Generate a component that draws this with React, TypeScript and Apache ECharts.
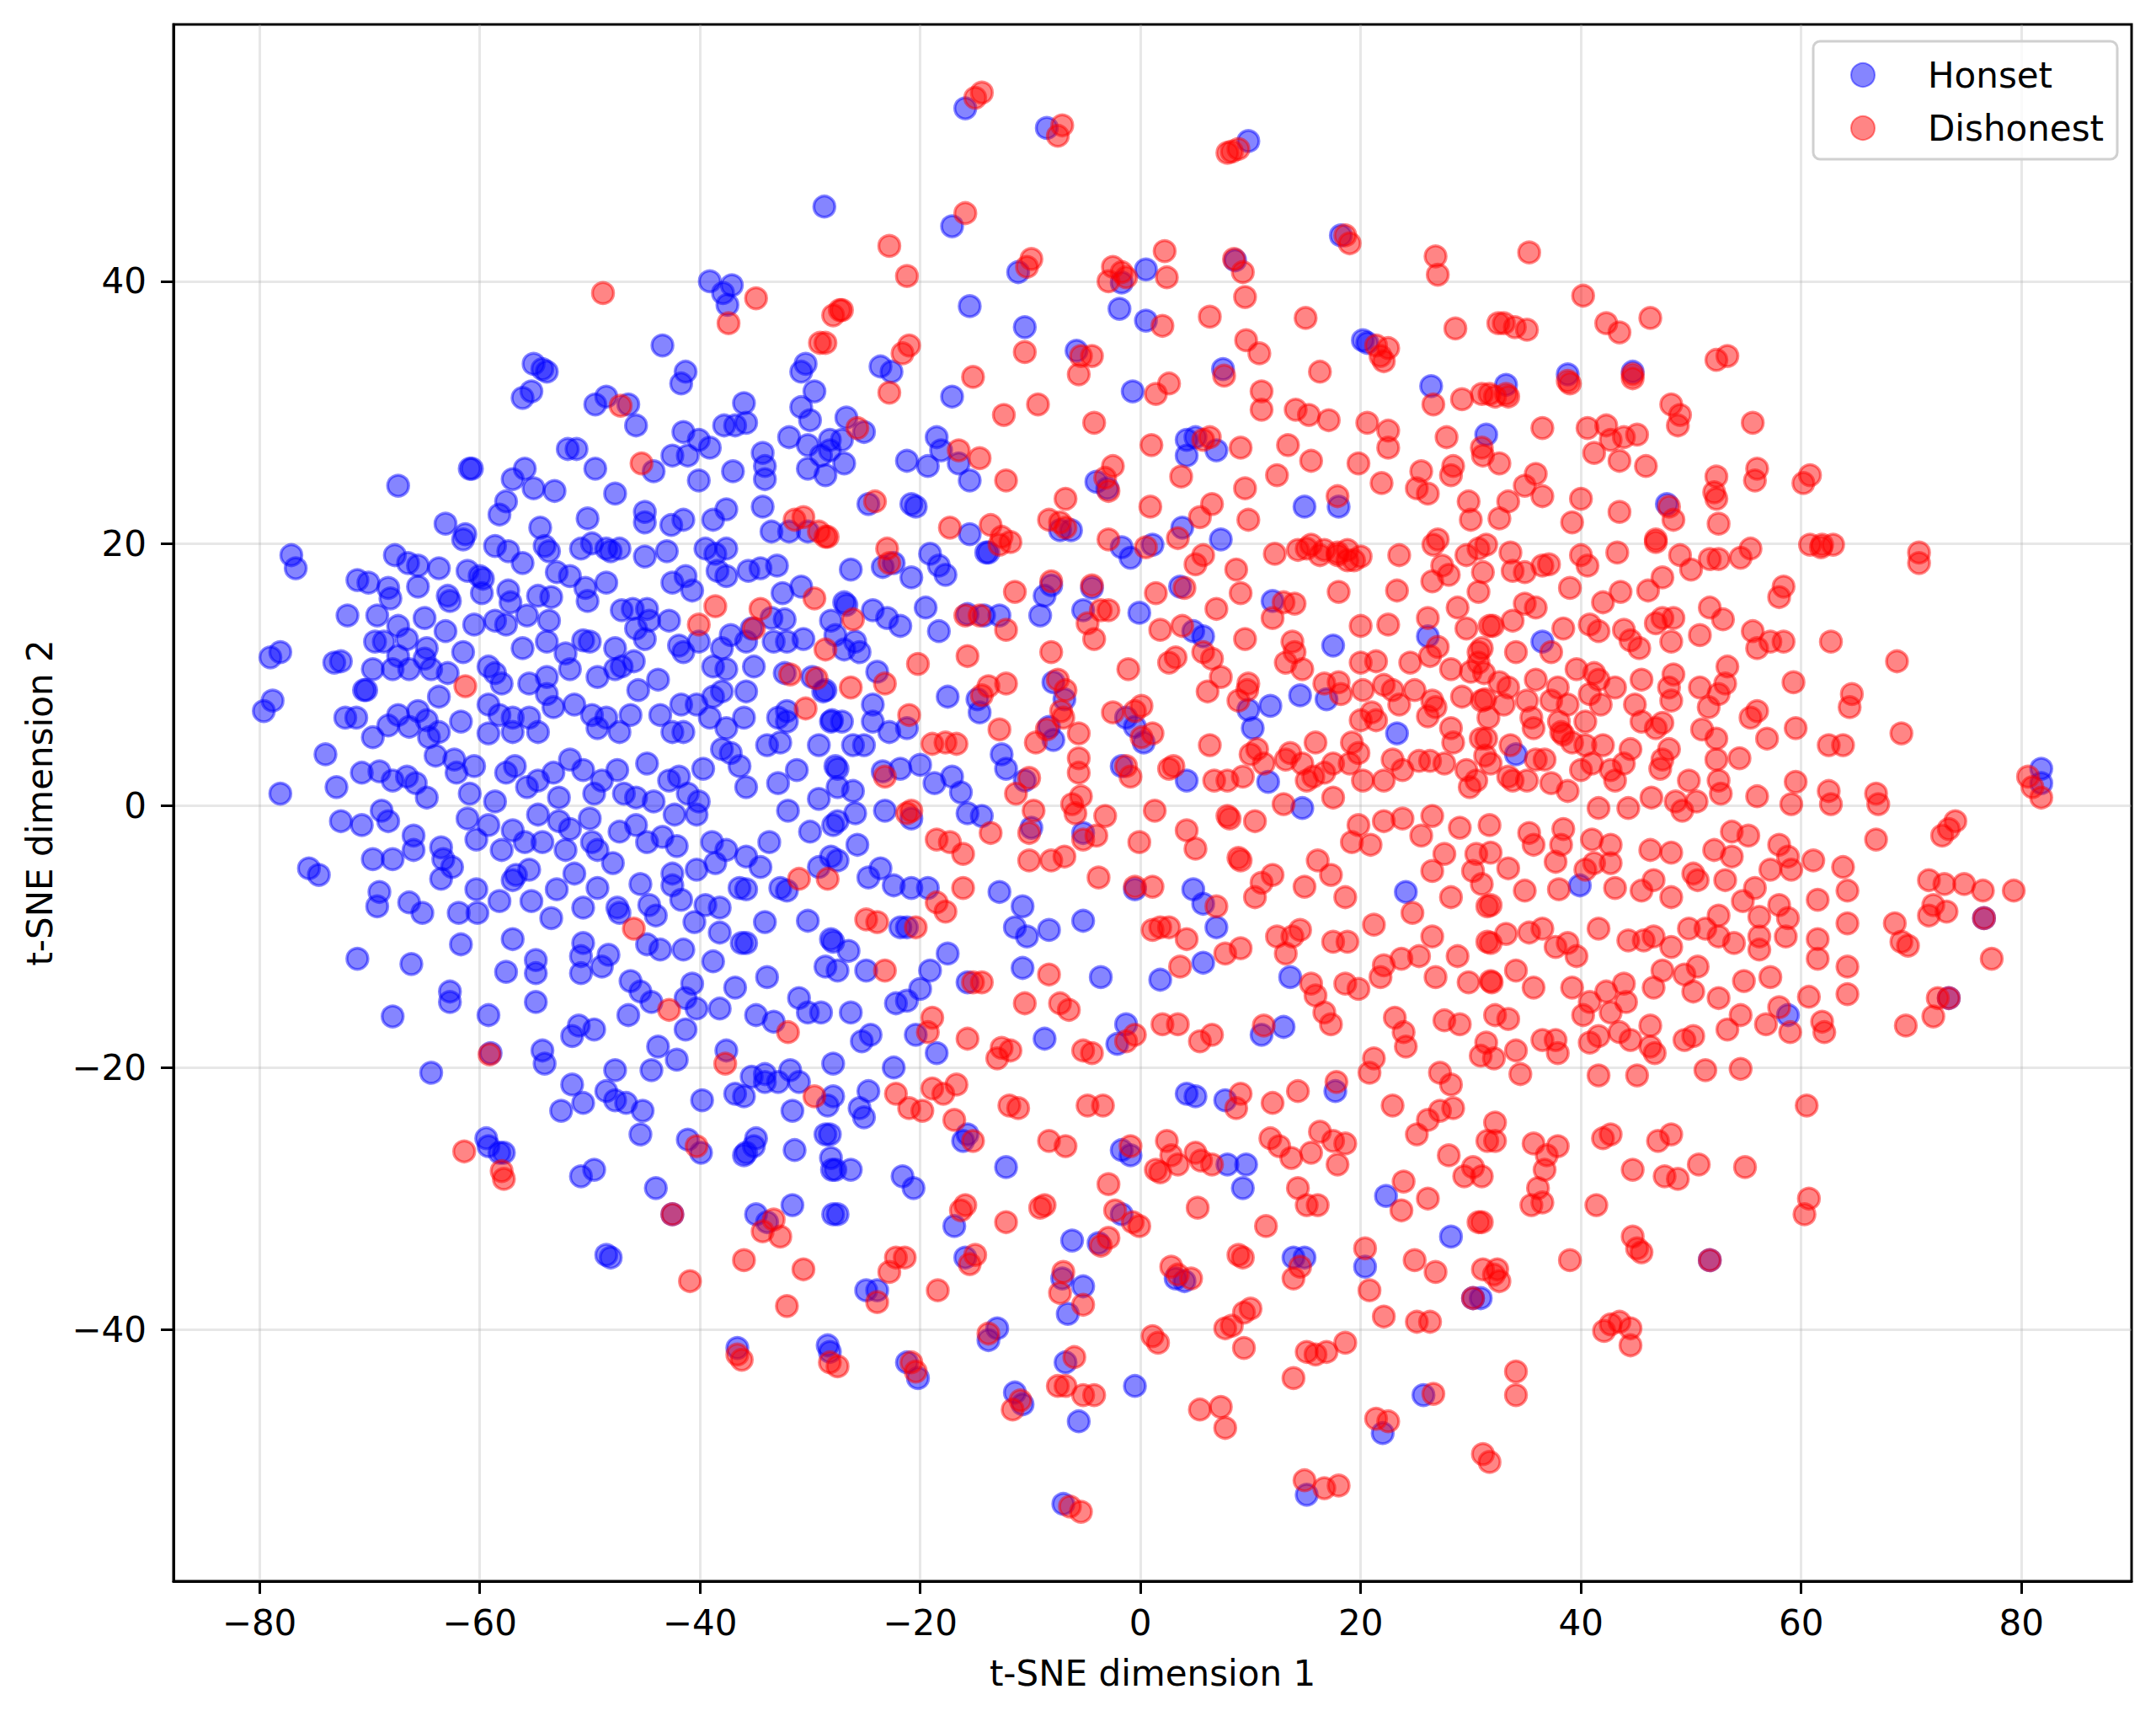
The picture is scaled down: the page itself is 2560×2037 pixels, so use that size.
import React, { useEffect, useRef } from "react";
import * as echarts from "echarts";

// ---------- DATA ----------
const xTicks = [-80, -60, -40, -20, 0, 20, 40, 60, 80];
const yTicks = [-40, -20, 0, 20, 40];
const seriesNames = ["Honset", "Dishonest"];

const honsetUpper: number[][] = [
  [-28.7,45.7],[-39.1,40],[-37.9,39.1],[-37.1,39.7],[-37.5,38.2],[-43.4,35.1],[-41.3,33.1],[-41.7,32.2],[-30.4,33.7],[-30.8,33.1],[-29.6,31.6],[-55.1,33.7],[-54.3,33.3],[-53.9,33.1],[-56.1,31.1],[-55.3,31.6],[-49.5,30.6],[-48.5,31.2],[-46.5,30.6],[-45.8,29.0],[-36.0,30.7],[-35.8,29.2],[-36.8,29.0],[-37.8,29.0],[-41.5,28.5],[-40.1,27.9],[-39.1,27.3],[-42.5,26.7],[-41.1,26.7],[-40.1,24.8],[-37.0,25.5],[-34.3,26.9],[-34.1,25.9],[-34.1,24.9],[-31.9,28.1],[-30.2,27.5],[-29.0,26.7],[-28.6,25.2],[-30.2,25.7],[-28.2,27.9],[-30.8,30.4],[-30.0,29.4],[-44.2,25.5],[-52.0,27.2],[-51.2,27.2],[-49.5,25.7],[-60.9,25.7],[-60.7,25.7],[-67.4,24.4],[-57.0,24.9],[-55.9,25.7],[-55.1,24.2],[-53.2,24.0],[-47.7,23.8],[-57.6,23.2],[-58.2,22.2],[-63.1,21.5],[-61.3,20.7],[-61.5,20.3],[-54.5,21.2],[-50.2,21.9],[-45.0,22.4],[-42.6,21.4],[-41.5,21.8],[-45.0,21.6],[-38.8,21.8],[-37.6,22.6],[-34.3,22.8],[-33.5,20.9],[-31.9,20.9],[-30.2,20.9],[-77.1,19.1],[-76.7,18.1],[-67.7,19.1],[-66.5,18.5],[-65.6,18.3],[-63.7,18.1],[-61.1,17.9],[-59.7,17.3],[-58.6,19.8],[-57.4,19.4],[-56.1,18.5],[-54.1,19.8],[-53.7,19.4],[-50.8,19.6],[-49.8,20.0],[-48.5,19.6],[-48.1,19.4],[-47.3,19.6],[-45.0,19.0],[-43.0,19.4],[-39.5,19.6],[-38.6,19.2],[-37.6,19.6],[-35.6,17.9],[-34.5,18.1],[-33.0,18.3],
  [-15.9,53.2],[-8.5,51.7],[9.8,50.7],[-17.1,44.2],[-11.1,40.7],[-1.7,39.9],[0.5,40.9],[18.2,43.5],[8.6,41.6],[-15.5,38.1],[-10.5,36.5],[-23.6,33.5],[-22.6,33.1],[-17.1,31.2],[-5.8,34.7],[-1.9,37.9],[0.5,37.0],[20.6,35.3],[20.2,35.5],[26.4,32.0],[-0.7,31.6],[7.5,33.3],[4.2,27.9],[5.0,28.1],[6.9,27.1],[4.2,26.7],[-7.3,21.0],[-6.3,21.0],[-4.0,24.7],[-3.0,24.2],[1.1,19.9],[3.8,21.2],[7.3,20.3],[-16.5,26.1],[-15.5,24.8],[-20.8,23.0],[-20.4,22.8],[-24.7,23.0],[-18.5,28.1],[-18.1,27.1],[-19.3,25.9],[-21.2,26.3],[-26.7,29.6],[-25.1,28.5],[-27.1,27.9],[-28.2,27.1],[-26.9,26.1],[-15.5,20.7],[-13.8,19.3],[-1.7,19.7],[-0.9,18.9],[14.9,22.8],[18.0,22.8],
  [33.2,32.1],[38.8,32.9],[44.7,33.1],[31.4,28.3],[47.8,23.0]
];

const honsetCore: number[][] = [
  [-71.1,17.2],[-70.1,17.0],[-68.3,16.6],[-68.1,15.8],[-65.6,16.7],[-62.9,16.0],[-62.7,15.6],[-60.0,17.5],[-59.8,16.2],[-57.4,16.4],[-57.2,15.5],[-54.7,16.0],[-53.5,15.9],[-53.0,17.8],[-51.8,17.5],[-50.4,16.6],[-50.2,15.6],[-48.5,17.0],[-47.1,14.9],[-46.1,15.0],[-44.8,15.0],[-42.5,17.0],[-41.3,17.5],[-40.7,16.4],[-38.4,17.9],[-37.6,17.5],[-32.5,16.2],[-30.8,16.7],[-26.7,15.3],
  [-72.0,14.5],[-69.3,14.5],[-67.4,13.7],[-66.6,12.7],[-65.0,14.3],[-63.1,13.3],[-60.5,13.8],[-64.8,12.0],[-65.0,11.2],[-69.5,12.5],[-68.7,12.5],[-67.4,11.4],[-61.5,11.7],[-58.6,14.1],[-57.6,13.8],[-55.7,14.5],[-53.7,14.1],[-56.1,12.0],[-53.9,12.5],[-52.2,11.6],[-50.6,12.6],[-50.0,12.5],[-47.7,12.0],[-45.8,13.5],[-45.0,12.7],[-44.6,14.1],[-42.8,14.1],[-41.9,12.2],[-41.5,11.7],[-40.1,12.5],[-38.0,12.0],[-37.2,13.0],[-35.8,12.5],[-35.3,13.5],[-33.5,14.3],[-32.3,14.2],[-33.3,12.5],[-32.1,12.5],[-30.6,12.7],[-28.1,14.1],[-27.7,13.0],[-35.1,10.6],[-32.3,10.1],[-37.6,10.4],[-38.8,10.6],[-46.0,11.0],[-47.1,10.6],[-43.8,9.6],[-47.7,10.4],[-49.3,9.8],[-51.8,10.4],[-53.9,9.8],[-55.5,9.3],[-58.6,10.1],[-59.2,10.6],[-58.0,9.3],[-62.9,10.1],[-64.4,10.4],[-66.4,10.4],[-67.9,10.4],[-69.7,10.4],[-70.3,8.8],[-72.6,11.0],[-73.2,10.9],[-79.0,11.3],[-78.1,11.7],[-78.8,8.0],[-79.6,7.2],
  [-72.2,6.7],[-71.2,6.7],[-70.5,8.8],[-69.7,5.2],[-68.3,6.1],[-67.4,6.9],[-66.4,6.0],[-65.6,7.2],[-64.8,6.5],[-64.6,5.2],[-63.7,5.6],[-63.7,8.3],[-61.7,6.4],[-59.2,7.7],[-59.2,5.5],[-58.2,6.9],[-57.0,5.6],[-57.0,6.7],[-55.5,6.7],[-54.7,5.6],[-53.9,8.5],[-53.3,7.5],[-51.4,7.7],[-49.8,6.9],[-49.3,5.9],[-48.5,6.7],[-47.3,5.6],[-46.3,6.9],[-45.6,8.8],[-43.6,6.9],[-42.5,5.6],[-41.7,7.7],[-41.5,5.6],[-40.3,7.7],[-39.1,6.7],[-38.8,8.3],[-37.6,5.9],[-36.0,6.7],[-35.8,8.7],[-38.0,8.7],[-32.9,6.7],[-32.1,7.2],[-32.1,6.4],[-32.7,4.8],[-29.2,4.6],[-28.1,6.4],[-28.8,8.7],[-29.8,9.8],
  [-74.0,3.9],[-78.1,0.9],[-73.0,1.4],[-70.7,2.5],[-69.1,2.6],[-67.9,1.9],[-66.6,2.2],[-65.8,1.7],[-64.8,0.6],[-64.0,3.8],[-62.3,3.5],[-62.1,2.5],[-60.9,0.9],[-60.5,3.0],[-58.6,0.3],[-57.6,2.5],[-56.8,3.0],[-55.7,1.4],[-54.7,1.9],[-53.3,2.5],[-52.8,0.6],[-51.8,3.5],[-50.6,2.7],[-49.6,0.9],[-48.9,1.9],[-47.5,2.7],[-46.9,0.9],[-45.8,0.6],[-44.8,3.2],[-44.2,0.3],[-42.8,1.9],[-41.9,2.2],[-41.1,0.9],[-40.1,0.3],[-39.7,2.8],[-38.0,4.3],[-37.2,4.0],[-36.4,3.0],[-35.8,1.4],[-33.9,4.6],[-32.9,1.7],[-31.2,2.7],[-29.2,0.5],[-27.5,1.4],[-27.7,3.0],
  [-72.6,-1.2],[-70.7,-1.5],[-68.9,-0.4],[-68.3,-1.2],[-66.0,-2.3],[-66.0,-3.4],[-63.5,-3.2],[-63.3,-4.1],[-62.5,-4.7],[-63.5,-5.6],[-61.1,-1.0],[-60.3,-2.6],[-59.2,-1.5],[-58.0,-3.4],[-57.0,-1.9],[-55.9,-2.8],[-54.7,-0.7],[-54.3,-2.8],[-52.8,-1.2],[-52.2,-3.4],[-51.8,-1.8],[-50.0,-1.0],[-49.8,-2.8],[-49.3,-3.4],[-47.3,-2.0],[-45.8,-1.5],[-44.8,-2.8],[-43.4,-2.4],[-42.3,-0.7],[-42.1,-3.1],[-40.3,-0.7],[-38.9,-2.8],[-37.6,-3.4],[-35.8,-3.9],[-34.5,-4.7],[-33.7,-2.8],[-32.0,-0.4],[-30.0,-2.0],[-29.2,-4.7],[-28.1,-3.9],[-27.5,-1.2],[-69.7,-4.1],[-67.9,-4.1],[-75.5,-4.8],[-74.6,-5.3],[-56.7,-5.3],[-55.5,-4.9],[-51.4,-5.2],[-47.9,-4.4],[-45.4,-6.0],[-42.5,-5.2],[-40.3,-4.9],[-38.6,-4.4],[-36.4,-6.3],
  [-69.1,-6.6],[-69.3,-7.7],[-66.4,-7.4],[-65.2,-8.2],[-61.9,-8.2],[-60.3,-6.4],[-60.2,-8.2],[-58.2,-7.3],[-57.0,-5.7],[-55.3,-7.3],[-53.0,-6.4],[-50.6,-7.8],[-49.3,-6.3],[-47.3,-8.2],[-44.6,-7.6],[-44.0,-8.4],[-42.5,-6.1],[-41.7,-7.2],[-40.5,-8.9],[-38.2,-7.8],[-38.2,-9.7],[-35.8,-6.4],[-34.1,-8.9],[-35.8,-10.5],[-32.7,-6.3],[-32.1,-6.5],[-30.2,-8.8],[-28.1,-10.2],[-39.5,-7.6],[-61.7,-10.6],[-57.0,-10.2],[-53.5,-8.6],[-50.6,-10.5],[-47.5,-7.8],[-44.8,-10.6],[-43.6,-11.0],[-41.5,-11.0],
  [-71.1,-11.7],[-66.2,-12.1],[-62.7,-14.2],[-62.7,-15.0],[-57.6,-12.7],[-54.9,-11.8],[-54.9,-12.8],[-54.9,-15.0],[-50.8,-11.5],[-50.8,-12.8],[-48.9,-12.3],[-48.3,-11.4],[-51.0,-16.8],[-49.6,-17.1],[-46.3,-13.4],[-45.4,-14.2],[-40.7,-13.6],[-38.8,-11.9],[-41.3,-14.7],[-40.3,-15.5],[-38.2,-15.5],[-36.8,-13.9],[-33.9,-13.1],[-34.9,-16.0],[-33.3,-16.5],[-31.0,-14.7],[-30.2,-15.8],[-28.6,-12.3],[-29.0,-15.8],[-59.2,-16.0],[-67.9,-16.1],[-41.3,-17.1],[-46.5,-16.0],[-44.4,-15.0],[-36.2,-10.5],
  [-59.0,-18.9],[-54.3,-18.7],[-54.1,-19.7],[-51.6,-17.6],[-47.7,-20.2],[-43.8,-18.4],[-42.1,-19.4],[-37.6,-18.7],[-34.1,-20.5],[-31.8,-20.2],[-27.9,-19.7],[-64.4,-20.4]
];

const honsetLower: number[][] = [
  [-51.6,-21.3],[-50.6,-22.7],[-48.5,-21.8],[-47.7,-22.5],[-52.6,-23.3],[-46.7,-22.7],[-45.2,-23.3],[-45.4,-25.1],[-44.4,-20.2],[-39.8,-22.5],[-36.0,-22.2],[-35.3,-20.7],[-36.8,-22.0],[-34.1,-21.1],[-32.9,-21.1],[-31.0,-21.1],[-31.6,-23.3],[-28.2,-25.1],[-28.1,-26.9],[-27.7,-27.8],[-35.1,-26.0],[-35.8,-26.5],[-36.0,-26.7],[-34.9,-25.4],[-31.4,-26.3],[-41.1,-25.5],[-39.9,-26.5],[-44.0,-29.2],[-42.5,-31.2],[-50.8,-28.3],[-49.6,-27.8],[-59.4,-25.4],[-59.2,-26.0],[-58.2,-26.5],[-57.8,-26.5],[-48.5,-34.3],[-48.1,-34.5],[-34.9,-31.2],[-33.9,-31.8],[-31.6,-30.5],[-27.9,-31.2],[-36.6,-41.4],[-28.2,-41.7],[-28.4,-41.2]
];

const honsetMiddle: number[][] = [
  [-26.3,18.0],[-23.4,18.2],[-22.4,18.5],[-20.8,17.4],[-19.1,19.2],[-18.3,18.3],[-17.7,17.6],[-14.0,19.3],[-19.5,15.1],[-26.9,15.5],[-24.3,14.9],[-23.0,14.3],[-21.8,13.7],[-18.3,13.3],[-15.7,14.6],[-14.2,14.5],[-12.8,14.5],[-9.1,14.5],[-8.7,16.0],[-8.1,16.8],[-5.2,14.9],[-4.4,16.6],[-0.1,14.7],[4.8,13.3],[5.7,12.9],[12.0,15.6],[17.5,12.2],[26.1,12.9],[-25.9,12.5],[-25.5,11.7],[-26.9,11.9],[-23.9,10.2],[-28.6,8.8],[-28.0,6.5],[-27.1,6.4],[-24.3,7.7],[-24.3,6.4],[-22.8,5.6],[-21.2,5.9],[-26.1,4.6],[-25.1,4.6],[-27.5,2.8],[-26.1,1.1],[-23.4,2.6],[-21.8,2.8],[-20.0,3.1],[-18.7,1.7],[-17.1,2.2],[-16.3,1.0],[-17.5,8.3],[-14.8,8.1],[-14.6,7.1],[-12.6,3.9],[-12.2,2.8],[-10.5,1.9],[-7.9,5.0],[-8.3,6.0],[-7.9,9.4],[-6.9,8.1],[-1.3,6.7],[-0.5,6.0],[0.3,4.8],[-1.7,3.0],[4.2,1.9],[9.8,7.3],[10.2,5.9],[11.8,7.6],[14.5,8.4],[16.9,8.1],[11.6,1.8],[23.3,5.5],[3.6,16.7],[14.7,-0.2],
  [-27.9,-1.5],[-25.9,-0.6],[-23.2,-0.4],[-20.8,-1.0],[-15.7,-0.6],[-14.4,-0.8],[-9.9,-1.7],[-5.2,-2.1],[-27.5,-4.2],[-25.7,-3.0],[-23.6,-4.8],[-21.8,-9.3],[-21.2,-9.3],[-19.3,-6.3],[-20.8,-6.3],[-22.4,-6.1],[-24.7,-5.5],[-27.9,-10.4],[-26.5,-11.1],[-24.9,-12.6],[-22.2,-15.1],[-21.2,-14.9],[-20.0,-14.0],[-19.1,-12.6],[-17.5,-11.3],[-27.5,-12.6],[-26.3,-15.8],[-25.3,-18.0],[-24.5,-17.5],[-22.4,-20.0],[-20.4,-17.5],[-18.5,-18.9],[-15.7,-13.5],[-12.8,-6.6],[-10.7,-7.7],[-11.4,-9.3],[-10.3,-10.0],[-10.7,-12.4],[-8.3,-9.5],[-8.7,-17.8],[-5.2,-8.8],[-3.6,-13.1],[-2.1,-18.2],[-1.3,-16.7],[-0.5,-6.4],[1.8,-13.3],[4.8,-6.4],[5.7,-7.5],[6.9,-9.3],[5.7,-12.0],[11.0,-17.5],[13.6,-13.1],[24.1,-6.6],
  [-28.4,-22.9],[-27.9,-22.2],[-28.6,-25.1],[-28.0,-27.8],[-26.3,-27.8],[-24.7,-21.8],[-25.5,-23.1],[-25.1,-23.8],[-21.6,-28.3],[-20.6,-29.2],[-27.5,-31.2],[-16.1,-25.6],[-15.7,-25.1],[-16.9,-32.1],[-15.9,-34.5],[-24.9,-37.0],[-23.9,-37.0],[-12.2,-27.6],[-6.2,-33.2],[-3.8,-33.4],[-7.1,-36.1],[-5.2,-36.7],[-6.6,-38.8],[-1.7,-26.3],[-0.9,-26.7],[-1.7,-31.2],[4.2,-22.0],[5.0,-22.2],[7.7,-22.5],[7.9,-27.4],[9.6,-27.4],[9.3,-29.2],[13.0,-16.9],[13.9,-34.5],[14.9,-34.5],[3.2,-36.1],[4.0,-36.3],[20.4,-35.2],[17.7,-21.8],[22.3,-29.8],[28.2,-32.9],[30.9,-37.6],[-13.8,-40.8],[-13.0,-39.9],[-21.2,-42.5],[-20.2,-43.7],[-11.4,-44.8],[-10.7,-45.7],[-5.6,-47.0],[-6.8,-42.5],[-0.5,-44.3],[-7.0,-53.3],[15.1,-52.6],[22.0,-47.9],[25.7,-45.0]
];

const honsetRight: number[][] = [
  [36.5,12.5],[34.1,3.9],[81.8,2.8],[81.8,1.7],[58.8,-16.0],[73.4,-14.7],[76.6,-8.6],[39.9,-6.1],[51.7,-34.7],[30.2,-37.6]
];

const dishonestLeft: number[][] = [
  [-48.8,39.1],[-34.9,38.7],[-37.4,36.8],[-29.1,35.3],[-27.3,37.8],[-47.2,30.5],[-45.3,26.1],[-38.6,15.2],[-40.1,13.8],[-34.5,15.0],[-35.1,13.5],[-29.6,15.8],[-28.6,11.9],[-31.8,10.0],[-29.4,9.7],[-30.4,7.4],[-61.3,9.1],[-31.4,21.8],[-30.6,22.0],[-29.2,20.9],[-28.6,20.5],
  [-31.0,-5.6],[-28.4,-5.6],[-46.0,-9.4],[-42.8,-15.6],[-32.0,-17.3],[-59.1,-19.0],[-37.7,-19.7],
  [-29.6,-22.2],[-40.3,-26.0],[-42.5,-31.2],[-61.4,-26.4],[-58.0,-27.9],[-57.8,-28.5],[-33.3,-31.6],[-34.3,-32.5],[-32.7,-32.9],[-36.0,-34.7],[-40.9,-36.3],[-30.6,-35.4],[-32.1,-38.2],[-36.6,-41.9],[-36.2,-42.3],[-28.2,-42.5],[-27.5,-42.8]
];

const dishonestUpper: number[][] = [
  [-15.0,54.0],[-14.4,54.4],[-7.1,51.9],[-7.5,51.1],[8.9,50.1],[7.9,49.8],[8.3,49.9],[-15.9,45.2],[-22.8,42.7],[-21.2,40.4],[-9.9,41.7],[-10.3,41.1],[-2.5,41.1],[-1.7,40.7],[-2.9,40.0],[-1.3,40.3],[2.4,40.3],[2.2,42.3],[8.5,41.7],[9.3,40.7],[9.5,38.8],[18.6,43.5],[19.0,42.9],[26.8,41.9],[27.0,40.5],[-10.5,34.6],[-27.1,37.8],[-27.9,37.4],[-28.6,35.3],[-21.0,35.1],[-21.6,34.5],[-22.8,31.5],[-15.2,32.7],[-5.4,34.3],[-4.4,34.3],[-5.6,32.9],[2.0,36.6],[6.3,37.3],[9.6,35.5],[10.8,34.5],[15.0,37.2],[16.3,33.1],[21.4,35.1],[22.1,33.9],[22.5,34.9],[21.8,34.3],[28.6,36.4],[1.4,31.4],[2.6,32.2],[7.6,32.8],[-12.4,29.8],[-9.3,30.6],[-4.2,29.2],[1.0,27.5],[3.7,25.1],[6.5,23.0],[5.4,22.0],[9.5,24.2],[9.8,21.8],[11.0,31.6],[11.0,30.2],[14.1,30.2],[15.3,29.8],[17.1,29.4],[13.4,27.5],[15.5,26.3],[12.4,25.2],[17.9,23.6],[20.6,29.2],[22.5,28.6],[22.5,27.3],[21.9,24.6],[19.8,26.1],[25.5,25.5],[25.1,24.2],[26.1,23.8],[27.8,28.1],[28.4,25.9],[28.2,25.2],[29.8,23.2],[30.0,21.8],[31.7,31.4],[32.5,36.8],[29.2,31.0],[26.6,30.6],[31.1,26.7],[6.3,28.1],[5.7,27.9],[9.1,27.3],[0.9,22.8],[3.4,20.4],[-6.8,21.2],[-7.3,21.6],[-8.3,21.8],[-6.8,23.4],[-3.2,25.0],[-2.5,25.9],[-2.9,24.0],[-14.6,26.5],[-16.5,27.1],[-12.2,24.8],[-24.1,23.2],[-25.7,28.8],[-28.4,20.5],[-17.3,21.2],[-13.6,21.4],[-12.6,20.5],[-11.8,20.1],[-2.9,20.3],[14.3,19.5],[15.5,19.9],[16.7,19.5],[17.9,19.1],[18.8,19.5],[19.4,18.7],[20.0,19.0],[23.5,19.1],[27.0,20.3],
  [35.3,42.2],[40.2,38.9],[33.0,36.8],[34.0,36.5],[35.1,36.3],[42.3,36.8],[43.5,36.1],[46.3,37.2],[52.3,34.0],[53.3,34.3],[39.0,32.2],[44.7,32.9],[31.0,31.4],[32.2,31.2],[33.4,31.2],[36.5,28.8],[40.6,28.8],[42.3,29.0],[42.7,27.9],[43.9,28.1],[45.1,28.3],[48.2,30.6],[49.0,29.8],[48.8,29.0],[55.6,29.2],[56.0,25.7],[55.8,24.8],[60.2,24.6],[60.8,25.2],[61.8,19.7],[60.8,19.9],[70.7,19.3],[70.7,18.5],[52.3,25.1],[52.1,23.9],[52.3,23.4],[52.5,21.5],[46.8,20.3],[48.4,21.8],[48.0,22.8],[40.0,23.4],[43.5,22.4],[39.2,21.6],[35.9,25.3],[34.9,24.4],[36.5,23.6],[33.4,23.2],[32.6,21.9],[43.5,26.3],[45.9,25.9],[41.2,26.9],[31.0,27.3],[32.6,26.1],[33.2,31.4],[38.8,32.4],[44.7,32.6]
];

const dishonestCentre: number[][] = [
  [-23.0,19.6],[-22.8,18.5],[-12.8,19.9],[-11.4,16.3],[-8.1,17.1],[-4.4,16.8],[-3.6,14.9],[-2.9,14.9],[-4.8,13.9],[-4.2,12.7],[0.5,19.7],[1.4,16.2],[4.0,16.6],[5.0,18.4],[5.7,19.1],[8.7,18.0],[9.1,16.2],[12.2,19.2],[15.1,19.6],[16.3,19.1],[17.9,19.3],[18.8,18.7],[26.6,19.9],[27.4,18.3],[29.6,19.1],[30.7,19.6],[31.1,17.8],[26.5,17.1],[28.0,17.6],[30.7,16.3],[28.8,15.1],[26.1,14.3],[23.3,16.4],[18.0,16.3],[20.0,13.7],[22.5,13.8],[13.0,15.5],[14.0,15.4],[6.9,15.0],[1.8,13.4],[3.8,13.7],[5.7,11.7],[6.5,11.2],[7.3,9.8],[3.2,11.3],[2.6,10.9],[9.5,12.7],[9.7,8.8],[8.9,8.0],[9.8,9.3],[6.1,8.7],[13.8,12.5],[14.0,11.7],[13.2,10.9],[14.7,10.4],[16.7,9.3],[18.0,9.4],[18.2,8.5],[20.0,10.9],[21.4,11.0],[20.2,8.8],[21.0,7.1],[22.1,9.2],[23.5,7.7],[24.5,10.9],[26.3,11.4],[27.0,12.1],[29.6,13.5],[30.7,11.7],[30.7,10.9],[31.7,13.7],[30.0,10.2],[26.5,8.0],[26.8,7.5],[28.2,5.9],[28.4,4.8],[30.9,5.1],[31.3,8.1],[29.2,8.3],[26.1,6.8],[25.3,3.4],[26.3,3.4],[27.6,3.2],[29.6,2.7],[31.3,3.8],[30.5,1.9],[29.9,1.4],[22.9,3.5],[23.8,2.7],[22.1,1.9],[20.2,1.9],[19.8,4.0],[19.2,4.8],[20.0,6.5],[21.4,6.5],[19.0,3.2],[16.7,2.5],[17.5,3.2],[15.7,2.2],[14.7,3.2],[13.6,4.0],[13.2,3.5],[15.9,4.8],[15.1,1.9],[17.5,0.6],[13.0,0.1],[10.6,4.3],[10.0,3.9],[11.2,3.2],[9.3,2.2],[7.9,1.9],[6.7,1.9],[6.3,4.6],[3.0,3.0],[2.6,2.8],[1.3,-0.4],[8.1,-1.0],[12.0,14.3],[28.2,10.4],[24.9,8.8],[22.9,8.8],[-1.1,10.4],[0.1,7.6],[-0.5,7.2],[-2.5,7.1],[0.1,5.2],[1.1,5.5],[-1.3,3.0],[-0.9,2.2],[-5.6,5.5],[-5.6,3.6],[-5.6,2.5],[-5.4,0.7],[-6.2,0.1],[-7.0,6.7],[-7.2,7.2],[-6.8,8.8],[-7.5,9.6],[-8.1,11.7],[-8.5,5.8],[-9.5,4.8],[-11.3,0.9],[-10.1,2.1],[-9.7,-0.4],[-12.8,5.8],[-12.2,9.3],[-13.8,9.1],[-14.4,8.4],[-12.2,13.4],[-14.6,14.5],[-15.7,11.4],[-20.2,10.8],[-21.0,6.9],[-18.9,4.7],[-17.7,4.8],[-16.7,4.7],[-23.2,2.2],[-20.8,-0.4],[-26.3,9.0],[-23.2,9.3],[-26.1,14.2],[-15.9,14.5],
  [-21.2,-0.6],[-18.5,-2.6],[-17.3,-2.8],[-16.1,-3.7],[-13.6,-2.1],[-10.1,-2.1],[-10.1,-4.2],[-8.1,-4.2],[-6.9,-3.9],[-5.9,-0.6],[-5.2,-2.6],[-4.0,-2.3],[-3.2,-0.8],[-3.8,-5.5],[-0.1,-2.8],[1.1,-6.2],[-0.5,-6.2],[4.2,-1.9],[5.0,-3.3],[7.9,-0.8],[10.4,-1.2],[9.1,-4.2],[11.0,-5.9],[12.0,-5.3],[14.9,-6.2],[16.1,-4.2],[17.3,-5.3],[18.6,-7.0],[19.8,-1.5],[19.2,-2.8],[20.9,-3.0],[22.1,-1.2],[23.8,-1.0],[25.5,-2.3],[26.5,-0.8],[27.6,-3.7],[29.0,-1.7],[30.5,-3.7],[31.7,-1.5],[31.5,-7.7],[30.2,-5.0],[28.2,-7.0],[26.5,-5.0],[24.7,-8.2],[21.2,-9.1],[18.8,-10.4],[17.5,-10.4],[13.8,-10.0],[12.4,-10.0],[14.5,-9.5],[13.2,-11.3],[9.1,-10.9],[7.7,-11.3],[3.6,-12.3],[1.8,-9.3],[1.1,-9.5],[2.6,-9.3],[4.2,-10.2],[6.9,-7.7],[10.4,-7.0],[15.5,-13.6],[15.9,-14.5],[18.6,-13.6],[19.8,-14.0],[16.7,-15.8],[17.3,-16.7],[23.1,-16.2],[23.9,-17.3],[24.1,-18.4],[22.1,-12.2],[21.8,-13.1],[23.7,-11.7],[25.3,-11.5],[26.8,-13.1],[28.8,-11.5],[29.8,-13.5],[31.9,-13.5],[27.6,-16.4],[29.0,-16.7],[26.5,-10.0],[31.5,-10.4],[30.9,-19.1],[32.1,-19.3],[27.2,-20.4],[20.8,-20.4],[21.2,-19.3],[17.8,-21.1],[14.3,-21.8],[12.0,-22.7],[11.8,-25.4],[12.6,-26.0],[9.1,-22.0],[8.7,-23.1],[15.5,-26.5],[13.7,-26.9],[8.9,-4.0],[11.2,-16.8],[6.5,-17.5],[5.4,-18.0],[3.4,-16.7],[2.0,-16.7],[-0.5,-17.5],[-1.3,-18.0],[3.4,-27.4],[1.4,-27.8],[-7.3,-15.1],[-6.5,-15.6],[-5.2,-18.7],[-4.4,-18.9],[-8.3,-12.9],[-10.5,-15.1],[-11.8,-18.7],[-12.6,-18.5],[-15.2,-13.5],[-14.4,-13.5],[-15.7,-17.8],[-16.7,-21.3],[-17.9,-22.0],[-18.9,-21.6],[-19.8,-23.3],[-21.0,-23.1],[-22.2,-22.0],[-16.9,-24.0],[-23.2,-12.6],[-18.9,-16.2],[-19.3,-17.3],[-23.9,-8.9],[-24.9,-8.7],[-20.4,-9.3],[-18.5,-7.4],[-17.7,-8.1],[-16.1,-6.3],[-13.0,-19.3]
];

const dishonestLower: number[][] = [
  [-22.2,-34.5],[-21.4,-34.5],[-22.8,-35.6],[-23.9,-37.9],[-18.4,-37.0],[-15.0,-34.3],[-15.5,-35.0],[-13.8,-40.3],[-20.8,-42.5],[-20.4,-43.2],[-11.6,-46.1],[-10.9,-45.4],[-7.5,-44.3],[-6.8,-44.3],[-5.2,-45.0],[-4.2,-45.0],[-6.0,-42.1],[-6.4,-53.5],[-5.4,-53.9],[-7.3,-37.2],[-5.2,-38.1],[-7.0,-35.6],[-3.6,-33.6],[-2.9,-33.0],[-0.1,-32.1],[-0.7,-31.8],[-2.3,-30.9],[-2.9,-28.9],[-8.7,-30.5],[-9.1,-30.7],[-12.2,-31.8],[-16.3,-30.9],[-15.9,-30.5],[-15.2,-25.6],[-11.1,-23.1],[-11.9,-22.9],[-8.3,-25.6],[-6.8,-26.0],[-3.4,-22.9],[-4.8,-22.9],[-0.9,-26.0],[1.8,-28.0],[2.8,-26.7],[2.4,-25.6],[5.0,-26.5],[5.5,-27.1],[6.5,-27.4],[5.2,-30.7],[2.8,-35.2],[3.4,-35.8],[4.6,-36.1],[9.3,-34.5],[10.0,-38.4],[9.4,-38.7],[7.7,-39.9],[8.3,-39.7],[9.4,-41.4],[1.1,-40.5],[1.6,-41.0],[5.4,-46.1],[7.3,-45.9],[7.7,-47.5],[13.9,-43.7],[15.1,-41.7],[15.9,-41.9],[18.6,-41.0],[16.9,-41.7],[13.9,-36.1],[14.5,-35.2],[14.3,-29.2],[15.1,-30.5],[16.1,-30.5],[17.9,-27.4],[17.5,-25.6],[18.6,-25.8],[16.3,-24.9],[11.4,-32.1],[8.9,-34.3],[20.4,-33.8],[20.8,-37.0],[22.1,-39.0],[25.1,-39.4],[26.3,-39.4],[26.8,-35.6],[24.9,-34.7],[21.4,-46.8],[22.5,-47.0],[26.6,-44.9],[31.1,-49.5],[31.7,-50.1],[14.9,-51.5],[16.7,-52.1],[18.0,-51.9],[31.1,-35.4],[32.1,-35.8],[29.4,-28.3],[30.2,-27.6],[23.9,-28.7],[26.1,-30.0],[23.7,-30.9],[30.7,-31.8],[28.0,-26.7],[22.9,-22.9],[26.1,-24.0],[27.2,-23.3],[28.4,-23.1],[31.5,-25.6],[28.2,-21.3],[25.1,-25.1],
  [32.2,-24.2],[32.2,-25.6],[31.0,-28.3],[31.0,-31.8],[32.4,-35.4],[32.6,-36.3],[35.7,-25.8],[36.9,-26.7],[37.9,-26.0],[36.7,-27.8],[36.1,-29.2],[36.5,-30.3],[35.5,-30.5],[39.0,-34.7],[41.4,-30.5],[42.0,-25.4],[42.7,-25.1],[44.7,-27.8],[47.0,-25.6],[48.2,-25.1],[47.6,-28.3],[48.8,-28.5],[50.7,-27.4],[54.9,-27.6],[44.7,-32.9],[45.1,-33.8],[45.5,-34.1],[51.7,-34.7],[42.1,-40.1],[42.7,-39.6],[43.5,-39.4],[44.5,-39.9],[44.5,-41.2],[34.1,-43.2],[34.1,-45.0],[60.5,-22.9],[60.7,-30.0],[60.3,-31.2],[30.2,-37.6]
];

const dishonestRight: number[][] = [
  [31.4,19.9],[33.6,19.3],[33.8,17.9],[34.9,17.8],[36.5,18.3],[37.1,18.4],[40.0,19.1],[40.6,18.3],[43.3,19.3],[46.8,20.1],[47.4,17.4],[49.0,19.1],[50.0,18.0],[51.7,18.8],[52.5,18.8],[54.5,18.9],[55.4,19.6],[58.0,15.9],[58.4,16.7],[61.9,19.9],[62.9,19.9],[39.0,16.6],[34.9,15.4],[35.9,15.1],[42.0,15.5],[43.6,16.3],[46.1,16.4],[47.4,14.3],[48.4,14.3],[51.7,15.1],[52.9,14.2],[50.8,13.0],[48.2,12.5],[44.5,12.6],[45.3,12.0],[43.9,13.4],[41.6,13.3],[40.8,13.8],[38.4,13.5],[37.3,11.7],[32.0,13.7],[33.8,14.1],[31.0,12.0],[34.1,11.7],[35.9,9.6],[32.6,9.4],[33.4,9.0],[31.0,8.0],[33.0,7.7],[31.6,6.7],[35.1,8.0],[35.5,6.7],[35.7,5.9],[37.9,9.0],[37.3,8.0],[38.8,7.7],[38.0,6.4],[38.2,5.6],[31.4,5.1],[33.6,4.6],[35.9,3.5],[36.7,3.5],[35.1,1.9],[33.8,1.9],[37.3,1.7],[38.8,1.1],[39.2,4.8],[40.4,6.4],[41.2,10.1],[41.6,9.6],[40.8,8.5],[41.8,7.7],[40.4,4.6],[41.0,3.2],[40.0,2.7],[42.0,4.6],[42.7,2.7],[43.1,1.9],[43.9,3.2],[44.5,4.3],[45.5,9.6],[44.9,7.7],[45.5,6.4],[46.8,5.9],[47.4,6.3],[48.2,8.0],[48.0,9.0],[48.4,10.0],[47.4,3.5],[48.0,4.3],[47.2,2.8],[50.8,9.0],[51.0,5.8],[51.6,7.5],[52.3,5.1],[52.3,3.5],[52.5,1.9],[52.7,0.9],[49.8,1.9],[48.6,0.3],[50.5,0.3],[53.1,9.3],[53.3,10.6],[52.5,8.5],[55.4,6.7],[56.0,7.2],[56.9,5.1],[54.4,3.6],[55.6,13.3],[56.0,12.0],[57.2,12.5],[58.4,12.5],[59.3,9.4],[59.5,5.9],[59.5,1.8],[59.1,0.1],[56.0,0.7],[62.7,12.5],[62.5,4.6],[63.8,4.6],[64.6,8.5],[64.4,7.5],[62.5,1.1],[62.7,0.1],[68.7,11.0],[69.1,5.5],[66.8,0.9],[67.0,0.1],[46.8,13.9],[39.6,10.4],[43.1,9.0],[38.4,5.4],[33.4,2.2],[31.8,3.2],[31.2,10.1],[41.6,-0.2],[44.3,-0.2],[46.4,0.6],[49.2,-0.4],[80.6,2.2],[81.0,1.4],[81.8,0.6],
  [74.0,-1.2],[73.4,-1.8],[72.8,-2.3],[66.8,-2.6],[71.6,-5.7],[73.0,-6.0],[74.8,-6.0],[76.5,-6.5],[79.3,-6.5],[72.0,-7.6],[73.2,-8.1],[71.6,-8.4],[76.6,-8.6],[68.5,-9.0],[69.1,-10.4],[69.7,-10.7],[77.3,-11.7],[73.4,-14.7],[72.4,-14.7],[72.0,-16.1],[69.5,-16.8],[64.2,-9.0],[64.2,-6.5],[63.8,-4.7],[61.5,-7.2],[61.5,-10.2],[61.5,-11.7],[64.2,-12.3],[64.2,-14.4],[60.7,-14.6],[61.9,-16.5],[62.1,-17.3],[58.0,-15.4],[59.0,-17.3],[56.8,-16.7],[54.5,-16.0],[53.3,-17.1],[52.5,-14.7],[50.2,-14.2],[50.6,-12.3],[47.4,-12.6],[49.4,-12.9],[46.6,-13.9],[44.1,-15.0],[42.7,-15.8],[40.8,-15.0],[42.3,-14.2],[43.9,-13.6],[41.6,-17.6],[40.8,-18.1],[43.5,-17.3],[44.5,-17.9],[46.3,-16.8],[46.3,-18.4],[49.4,-17.9],[50.2,-17.6],[46.7,-18.9],[37.7,-17.9],[36.5,-17.9],[37.9,-18.9],[33.4,-16.3],[32.2,-16.0],[31.8,-13.4],[34.1,-12.6],[35.7,-13.9],[35.3,-9.7],[36.5,-9.4],[33.2,-9.8],[31.8,-10.5],[31.8,-7.6],[31.0,-6.0],[33.4,-4.8],[31.8,-3.6],[34.9,-6.5],[38.0,-6.4],[40.4,-4.9],[41.2,-4.4],[42.7,-4.4],[43.1,-6.3],[45.5,-6.5],[46.6,-5.7],[48.2,-7.0],[50.2,-5.2],[50.6,-5.7],[52.5,-8.4],[53.1,-5.7],[54.7,-7.3],[55.8,-6.3],[56.2,-8.5],[58.0,-7.6],[58.8,-8.6],[58.6,-10.0],[57.2,-4.9],[59.1,-4.9],[56.2,-10.0],[56.2,-11.0],[52.5,-10.0],[51.3,-9.4],[49.8,-9.4],[53.9,-10.5],[46.6,-10.0],[48.2,-10.8],[45.7,-10.3],[44.3,-10.3],[41.6,-9.4],[39.6,-11.5],[38.8,-10.5],[37.7,-10.8],[37.7,-4.3],[35.7,-3.0],[35.3,-2.1],[38.4,-1.8],[38.2,-3.0],[41.0,-2.6],[42.7,-3.0],[46.3,-3.4],[48.2,-3.6],[52.1,-3.4],[53.7,-3.9],[53.7,-2.0],[55.2,-2.3],[58.0,-3.0],[58.8,-3.9],[61.1,-4.2],[54.8,-13.4],[57.2,-13.1],[39.2,-13.9],[40.2,-16.0],[31.4,-18.1],[34.1,-18.7],[51.3,-20.2],[54.5,-20.1],[34.5,-20.5],[41.6,-20.6],[45.1,-20.6]
];

const honsetData = [...honsetUpper, ...honsetCore, ...honsetLower, ...honsetMiddle, ...honsetRight];
const dishonestData = [...dishonestLeft, ...dishonestUpper, ...dishonestCentre, ...dishonestLower, ...dishonestRight];

const FONT = "DejaVu Sans";
const fmt = (v: number) => (v < 0 ? "\u2212" + Math.abs(v) : String(v));

export default function App() {
  const ref = useRef<HTMLDivElement>(null);
  useEffect(() => {
    if (!ref.current) return;
    const chart = echarts.init(ref.current, null, { renderer: "svg" });
    const blue = "rgba(0,0,255,0.6)";
    const red = "rgba(255,0,0,0.6)";
    chart.setOption({
      animation: false,
      backgroundColor: "#ffffff",
      textStyle: { fontFamily: FONT },
      grid: {
        left: 206, right: 29, top: 29, bottom: 160,
        show: true, borderColor: "#000000", borderWidth: 3, backgroundColor: "transparent",
      },
      xAxis: {
        type: "value", min: -87.8, max: 90.0,
        name: "t-SNE dimension 1", nameLocation: "middle", nameGap: 88,
        nameTextStyle: { fontSize: 42, color: "#000", fontFamily: FONT },
        axisLine: { show: true, onZero: false, lineStyle: { color: "#000", width: 3 } },
        axisTick: { show: true, length: 15, lineStyle: { color: "#000", width: 3 }, customValues: xTicks },
        axisLabel: { fontSize: 42, color: "#000", fontFamily: FONT, margin: 28, customValues: xTicks, formatter: fmt },
        splitLine: { show: true, lineStyle: { color: "#b0b0b0", opacity: 0.3, width: 3 } },
      },
      yAxis: {
        type: "value", min: -59.2, max: 59.6,
        name: "t-SNE dimension 2", nameLocation: "middle", nameGap: 138, nameRotate: 90,
        nameTextStyle: { fontSize: 42, color: "#000", fontFamily: FONT },
        axisLine: { show: true, onZero: false, lineStyle: { color: "#000", width: 3 } },
        axisTick: { show: true, length: 15, lineStyle: { color: "#000", width: 3 }, customValues: yTicks },
        axisLabel: { fontSize: 42, color: "#000", fontFamily: FONT, margin: 32, customValues: yTicks, formatter: fmt },
        splitLine: { show: true, lineStyle: { color: "#b0b0b0", opacity: 0.3, width: 3 } },
      },
      graphic: [
        {
          type: "rect", z: 3,
          shape: { x: 2153, y: 49, width: 361, height: 140, r: 8 },
          style: { fill: "rgba(255,255,255,0.8)", stroke: "#d0d0d0", lineWidth: 3 },
        },
      ],
      legend: {
        orient: "vertical", left: 2197, top: 67, padding: 0, z: 4,
        itemWidth: 144, itemHeight: 28, itemGap: 19,
        icon: "circle",
        textStyle: { fontSize: 42, color: "#000", fontFamily: FONT, lineHeight: 44 },
        data: seriesNames,
      },
      series: [
        {
          type: "scatter", name: seriesNames[0], data: honsetData,
          symbol: "circle", symbolSize: 25, silent: true,
          itemStyle: { color: blue, borderColor: blue, borderWidth: 3.5 },
        },
        {
          type: "scatter", name: seriesNames[1], data: dishonestData,
          symbol: "circle", symbolSize: 25, silent: true,
          itemStyle: { color: red, borderColor: red, borderWidth: 3.5 },
        },
      ],
    });
    return () => chart.dispose();
  }, []);
  return (
    <div
      ref={ref}
      style={{ position: "absolute", left: 0, top: 0, width: 2560, height: 2037 }}
    />
  );
}
